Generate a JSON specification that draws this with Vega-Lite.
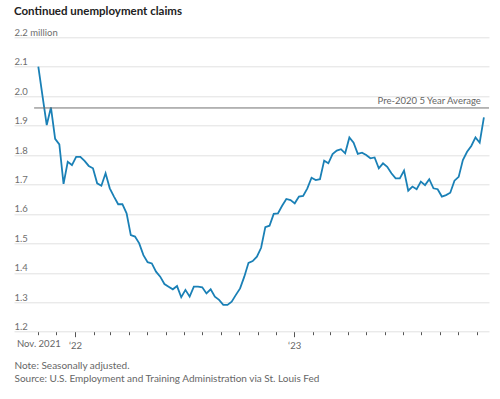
{
  "$schema": "https://vega.github.io/schema/vega-lite/v6.json",
  "width": 475,
  "height": 294.4,
  "autosize": {"type": "none"},
  "padding": {"top": 37.3, "left": 14, "right": 11, "bottom": 67.3},
  "background": "white",
  "config": {"view": {"stroke": null}, "font": "Lato"},
  "title": {
    "text": "Continued unemployment claims",
    "anchor": "start",
    "frame": "group",
    "orient": "top",
    "baseline": "alphabetic",
    "offset": 1,
    "font": "Lato",
    "fontSize": 11.5,
    "fontWeight": "bold",
    "color": "#222222"
  },
  "resolve": {"axis": {"x": "independent", "y": "independent"}},
  "layer": [
    {
      "data": {
        "values": [
          {"week": "2021-11-01", "claims": 2.100},
          {"week": "2021-11-08", "claims": 2.000},
          {"week": "2021-11-15", "claims": 1.902},
          {"week": "2021-11-22", "claims": 1.962},
          {"week": "2021-11-29", "claims": 1.855},
          {"week": "2021-12-06", "claims": 1.836},
          {"week": "2021-12-13", "claims": 1.702},
          {"week": "2021-12-20", "claims": 1.777},
          {"week": "2021-12-27", "claims": 1.766},
          {"week": "2022-01-03", "claims": 1.794},
          {"week": "2022-01-10", "claims": 1.794},
          {"week": "2022-01-17", "claims": 1.780},
          {"week": "2022-01-24", "claims": 1.763},
          {"week": "2022-01-31", "claims": 1.755},
          {"week": "2022-02-07", "claims": 1.704},
          {"week": "2022-02-14", "claims": 1.696},
          {"week": "2022-02-21", "claims": 1.738},
          {"week": "2022-02-28", "claims": 1.687},
          {"week": "2022-03-07", "claims": 1.659},
          {"week": "2022-03-14", "claims": 1.633},
          {"week": "2022-03-21", "claims": 1.633},
          {"week": "2022-03-28", "claims": 1.602},
          {"week": "2022-04-04", "claims": 1.528},
          {"week": "2022-04-11", "claims": 1.523},
          {"week": "2022-04-18", "claims": 1.500},
          {"week": "2022-04-25", "claims": 1.460},
          {"week": "2022-05-02", "claims": 1.436},
          {"week": "2022-05-09", "claims": 1.432},
          {"week": "2022-05-16", "claims": 1.404},
          {"week": "2022-05-23", "claims": 1.387},
          {"week": "2022-05-30", "claims": 1.362},
          {"week": "2022-06-06", "claims": 1.353},
          {"week": "2022-06-13", "claims": 1.344},
          {"week": "2022-06-20", "claims": 1.355},
          {"week": "2022-06-27", "claims": 1.317},
          {"week": "2022-07-04", "claims": 1.342},
          {"week": "2022-07-11", "claims": 1.319},
          {"week": "2022-07-18", "claims": 1.353},
          {"week": "2022-07-25", "claims": 1.353},
          {"week": "2022-08-01", "claims": 1.351},
          {"week": "2022-08-08", "claims": 1.330},
          {"week": "2022-08-15", "claims": 1.344},
          {"week": "2022-08-22", "claims": 1.319},
          {"week": "2022-08-29", "claims": 1.308},
          {"week": "2022-09-05", "claims": 1.291},
          {"week": "2022-09-12", "claims": 1.291},
          {"week": "2022-09-19", "claims": 1.302},
          {"week": "2022-09-26", "claims": 1.325},
          {"week": "2022-10-03", "claims": 1.347},
          {"week": "2022-10-10", "claims": 1.387},
          {"week": "2022-10-17", "claims": 1.434},
          {"week": "2022-10-24", "claims": 1.440},
          {"week": "2022-10-31", "claims": 1.455},
          {"week": "2022-11-07", "claims": 1.485},
          {"week": "2022-11-14", "claims": 1.555},
          {"week": "2022-11-21", "claims": 1.560},
          {"week": "2022-11-28", "claims": 1.600},
          {"week": "2022-12-05", "claims": 1.602},
          {"week": "2022-12-12", "claims": 1.628},
          {"week": "2022-12-19", "claims": 1.651},
          {"week": "2022-12-26", "claims": 1.647},
          {"week": "2023-01-02", "claims": 1.636},
          {"week": "2023-01-09", "claims": 1.659},
          {"week": "2023-01-16", "claims": 1.661},
          {"week": "2023-01-23", "claims": 1.687},
          {"week": "2023-01-30", "claims": 1.723},
          {"week": "2023-02-06", "claims": 1.715},
          {"week": "2023-02-13", "claims": 1.718},
          {"week": "2023-02-20", "claims": 1.781},
          {"week": "2023-02-27", "claims": 1.772},
          {"week": "2023-03-06", "claims": 1.803},
          {"week": "2023-03-13", "claims": 1.815},
          {"week": "2023-03-20", "claims": 1.820},
          {"week": "2023-03-27", "claims": 1.806},
          {"week": "2023-04-03", "claims": 1.860},
          {"week": "2023-04-10", "claims": 1.842},
          {"week": "2023-04-17", "claims": 1.804},
          {"week": "2023-04-24", "claims": 1.808},
          {"week": "2023-05-01", "claims": 1.800},
          {"week": "2023-05-08", "claims": 1.789},
          {"week": "2023-05-15", "claims": 1.792},
          {"week": "2023-05-22", "claims": 1.755},
          {"week": "2023-05-29", "claims": 1.772},
          {"week": "2023-06-05", "claims": 1.760},
          {"week": "2023-06-12", "claims": 1.738},
          {"week": "2023-06-19", "claims": 1.721},
          {"week": "2023-06-26", "claims": 1.721},
          {"week": "2023-07-03", "claims": 1.747},
          {"week": "2023-07-10", "claims": 1.679},
          {"week": "2023-07-17", "claims": 1.693},
          {"week": "2023-07-24", "claims": 1.684},
          {"week": "2023-07-31", "claims": 1.710},
          {"week": "2023-08-07", "claims": 1.698},
          {"week": "2023-08-14", "claims": 1.718},
          {"week": "2023-08-21", "claims": 1.687},
          {"week": "2023-08-28", "claims": 1.684},
          {"week": "2023-09-04", "claims": 1.659},
          {"week": "2023-09-11", "claims": 1.664},
          {"week": "2023-09-18", "claims": 1.672},
          {"week": "2023-09-25", "claims": 1.713},
          {"week": "2023-10-02", "claims": 1.726},
          {"week": "2023-10-09", "claims": 1.783},
          {"week": "2023-10-16", "claims": 1.811},
          {"week": "2023-10-23", "claims": 1.831},
          {"week": "2023-10-30", "claims": 1.860},
          {"week": "2023-11-06", "claims": 1.842},
          {"week": "2023-11-13", "claims": 1.928}
        ]
      },
      "mark": {"type": "line", "color": "#1a80b6", "strokeWidth": 1.8, "interpolate": "linear"},
      "encoding": {
        "x": {
          "field": "week",
          "type": "temporal",
          "scale": {
            "type": "utc",
            "domain": [
              {"year": 2021, "month": 9, "date": 21, "hours": 12, "utc": true},
              {"year": 2023, "month": 11, "date": 21, "hours": 12, "utc": true}
            ]
          },
          "axis": {
            "values": [
              {"year": 2021, "month": 11, "date": 1, "utc": true},
              {"year": 2021, "month": 12, "date": 1, "utc": true},
              {"year": 2022, "month": 1, "date": 1, "utc": true},
              {"year": 2022, "month": 2, "date": 1, "utc": true},
              {"year": 2022, "month": 3, "date": 1, "utc": true},
              {"year": 2022, "month": 4, "date": 1, "utc": true},
              {"year": 2022, "month": 5, "date": 1, "utc": true},
              {"year": 2022, "month": 6, "date": 1, "utc": true},
              {"year": 2022, "month": 7, "date": 1, "utc": true},
              {"year": 2022, "month": 8, "date": 1, "utc": true},
              {"year": 2022, "month": 9, "date": 1, "utc": true},
              {"year": 2022, "month": 10, "date": 1, "utc": true},
              {"year": 2022, "month": 11, "date": 1, "utc": true},
              {"year": 2022, "month": 12, "date": 1, "utc": true},
              {"year": 2023, "month": 1, "date": 1, "utc": true},
              {"year": 2023, "month": 2, "date": 1, "utc": true},
              {"year": 2023, "month": 3, "date": 1, "utc": true},
              {"year": 2023, "month": 4, "date": 1, "utc": true},
              {"year": 2023, "month": 5, "date": 1, "utc": true},
              {"year": 2023, "month": 6, "date": 1, "utc": true},
              {"year": 2023, "month": 7, "date": 1, "utc": true},
              {"year": 2023, "month": 8, "date": 1, "utc": true},
              {"year": 2023, "month": 9, "date": 1, "utc": true},
              {"year": 2023, "month": 10, "date": 1, "utc": true},
              {"year": 2023, "month": 11, "date": 1, "utc": true}
            ],
            "labelExpr": "utcmonth(datum.value) == 0 ? \"‘\" + utcFormat(datum.value, '%y') : (utcyear(datum.value) == 2021 && utcmonth(datum.value) == 10 ? 'Nov. 2021' : '')",
            "grid": false,
            "domain": false,
            "ticks": true,
            "tickColor": "#555555",
            "tickSize": {"condition": {"test": "utcmonth(datum.value) == 0", "value": 5}, "value": 3},
            "tickWidth": 1,
            "labelFont": "Lato",
            "labelFontSize": 9.5,
            "labelColor": "#666666",
            "labelBaseline": "alphabetic",
            "labelPadding": 12,
            "labelAlign": "center",
            "labelOverlap": false,
            "labelFlush": false,
            "title": ["Note: Seasonally adjusted.", "Source: U.S. Employment and Training Administration via St. Louis Fed"],
            "titleFont": "Lato",
            "titleFontSize": 10,
            "titleFontWeight": "normal",
            "titleColor": "#666666",
            "titleAnchor": "start",
            "titleAlign": "left",
            "titleBaseline": "alphabetic",
            "titleLineHeight": 13.4,
            "titleX": 0,
            "titleY": 36.6
          }
        },
        "y": {
          "field": "claims",
          "type": "quantitative",
          "scale": {"domain": [1.2, 2.2], "nice": false, "zero": false},
          "axis": {
            "values": [1.2, 1.3, 1.4, 1.5, 1.6, 1.7, 1.8, 1.9, 2.0, 2.1, 2.2],
            "labelExpr": "datum.value >= 2.19 ? '2.2 million' : format(datum.value, '.1f')",
            "grid": true,
            "gridColor": "#e2e2e2",
            "gridWidth": 1,
            "domain": false,
            "ticks": false,
            "labelAlign": "left",
            "labelBaseline": "alphabetic",
            "labelPadding": 0,
            "labelOffset": -2,
            "labelOverlap": false,
            "labelFlush": false,
            "labelFont": "Lato",
            "labelFontSize": 9.5,
            "labelColor": "#6e6e6e",
            "title": null
          }
        }
      }
    },
    {
      "data": {"values": [{"label": "Pre-2020 5 Year Average", "avg": 1.96}]},
      "mark": {"type": "rule", "color": "#707070", "strokeWidth": 1},
      "encoding": {
        "x": {"datum": {"year": 2021, "month": 10, "date": 25, "utc": true}, "type": "temporal", "axis": null},
        "x2": {"datum": {"year": 2023, "month": 11, "date": 21, "hours": 12, "utc": true}},
        "y": {"field": "avg", "type": "quantitative", "axis": null}
      }
    },
    {
      "data": {"values": [{"label": "Pre-2020 5 Year Average", "avg": 1.96}]},
      "mark": {"type": "text", "align": "right", "baseline": "alphabetic", "dy": -4, "font": "Lato", "fontSize": 9.5, "color": "#666666"},
      "encoding": {
        "x": {"datum": {"year": 2023, "month": 11, "date": 8, "utc": true}, "type": "temporal", "axis": null},
        "y": {"field": "avg", "type": "quantitative", "axis": null},
        "text": {"field": "label"}
      }
    }
  ]
}
